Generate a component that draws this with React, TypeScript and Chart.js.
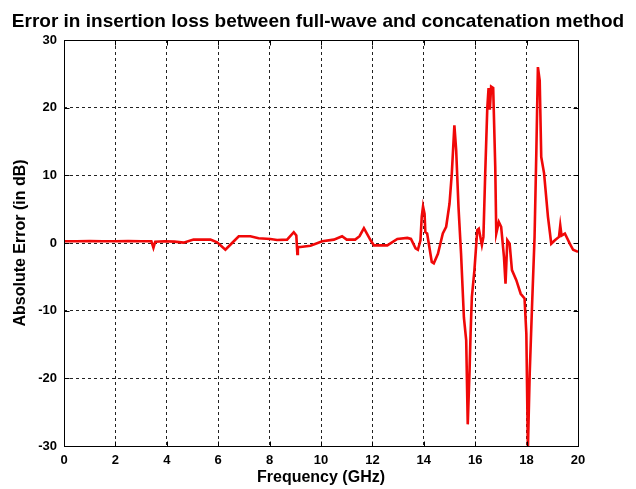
import { useEffect, useRef } from 'react';
import { Chart, registerables } from 'chart.js';

Chart.register(...registerables);

const TITLE = 'Error in insertion loss between full-wave and concatenation method';
const X_TITLE = 'Frequency (GHz)';
const Y_TITLE = 'Absolute Error (in dB)';

const freqGHz = [
  0, 0.5, 1, 1.5, 2, 2.5, 3, 3.4, 3.48, 3.55, 3.9, 4.3, 4.65, 5.04, 5.7, 5.96,
  6.28, 6.54, 6.8, 7.25, 7.57, 8.03, 8.29, 8.68, 8.94, 9.04, 9.08, 9.1, 9.2, 9.59,
  10.05, 10.5, 10.82, 11.0, 11.33, 11.5, 11.67, 11.93, 12.06, 12.58, 12.97, 13.36,
  13.5, 13.68, 13.77, 13.87, 13.92, 13.97, 14.03, 14.06, 14.13, 14.31, 14.39, 14.55,
  14.74, 14.87, 15.0, 15.09, 15.19, 15.26, 15.35, 15.45, 15.56, 15.65, 15.71, 15.78,
  15.82, 15.87, 15.97, 16.08, 16.14, 16.26, 16.32, 16.39, 16.47, 16.52, 16.57, 16.62,
  16.7, 16.78, 16.82, 16.92, 17.01, 17.12, 17.18, 17.25, 17.34, 17.43, 17.6, 17.77,
  17.92, 17.99, 18.05, 18.12, 18.21, 18.31, 18.38, 18.44, 18.51, 18.57, 18.68, 18.83,
  18.96, 19.1, 19.26, 19.31, 19.36, 19.49, 19.68, 19.81, 20.0,
];

const errorDb = [
  0.25, 0.25, 0.3, 0.25, 0.25, 0.3, 0.25, 0.25, -0.7, 0.2, 0.25, 0.2, 0.05, 0.5, 0.5, 0.1,
  -1.0, 0.0, 1.0, 1.0, 0.7, 0.6, 0.45, 0.5, 1.6, 1.1, -1.6, -0.6, -0.6, -0.4,
  0.25, 0.5, 1.0, 0.5, 0.5, 1.0, 2.2, 0.4, -0.35, -0.35, 0.6, 0.75,
  0.6, -0.8, -1.0, 0.4, 3.9, 5.4, 4.3, 1.6, 1.4, -2.8, -3.0, -1.6,
  1.4, 2.4, 5.8, 10.3, 17.4, 13.7, 5.3, -1.6, -11, -14.4, -26.8, -18.9,
  -13.4, -8, -4, 1.9, 2.1, -0.3, 0.9, 10.3, 19.9, 22.9, 19.7, 23.1,
  22.9, 11.3, 1.4, 3.1, 2.4, -2.1, -6, 0.4, -0.1, -4, -5.5, -7.5,
  -8.2, -13.4, -30.5, -19.4, -9.5, 0.9, 13.7, 26, 24, 12.7, 10.3, 3.9,
  -0.1, 0.4, 0.9, 2.6, 1.1, 1.4, -0.1, -1.0, -1.3,
];

const xTickValues = [0, 2, 4, 6, 8, 10, 12, 14, 16, 18, 20];
const yTickValues = [-30, -20, -10, 0, 10, 20, 30];

const FONT = "'Liberation Sans', Arial, sans-serif";

const framePlugin = {
  id: 'matlabFrame',
  afterDatasetsDraw(chart: any) {
    const { ctx, chartArea: a, scales } = chart;
    ctx.save();
    ctx.strokeStyle = '#000';
    ctx.lineWidth = 1;
    const L = Math.round(a.left) + 0.5;
    const R = Math.round(a.right) + 0.5;
    const T = Math.round(a.top) + 0.5;
    const B = Math.round(a.bottom) + 0.5;
    ctx.strokeRect(L, T, R - L, B - T);
    const tl = 5;
    ctx.beginPath();
    xTickValues.forEach((v) => {
      const px = Math.round(scales.x.getPixelForValue(v)) + 0.5;
      ctx.moveTo(px, B);
      ctx.lineTo(px, B - tl);
      ctx.moveTo(px, T);
      ctx.lineTo(px, T + tl);
    });
    yTickValues.forEach((v) => {
      const py = Math.round(scales.y.getPixelForValue(v)) + 0.5;
      ctx.moveTo(L, py);
      ctx.lineTo(L + tl, py);
      ctx.moveTo(R, py);
      ctx.lineTo(R - tl, py);
    });
    ctx.stroke();
    ctx.restore();
  },
};

const figureTitlePlugin = {
  id: 'figureTitle',
  afterDraw(chart: any) {
    const { ctx } = chart;
    ctx.save();
    ctx.fillStyle = '#000';
    ctx.font = `bold 19px ${FONT}`;
    ctx.textAlign = 'center';
    ctx.textBaseline = 'alphabetic';
    ctx.fillText(TITLE, chart.width / 2, 27);
    ctx.restore();
  },
};

export default function App() {
  const ref = useRef<HTMLCanvasElement | null>(null);

  useEffect(() => {
    if (!ref.current) return;
    const chart = new Chart(ref.current, {
      type: 'line',
      data: {
        datasets: [
          {
            data: freqGHz.map((f, i) => ({ x: f, y: errorDb[i] })),
            borderColor: 'rgb(240,8,8)',
            borderWidth: 2.6,
            pointRadius: 0,
            tension: 0,
            fill: false,
          },
        ],
      },
      options: {
        animation: false,
        responsive: true,
        maintainAspectRatio: false,
        layout: { padding: { left: 0, right: 58, top: 40, bottom: 0 } },
        plugins: {
          legend: { display: false },
          tooltip: { enabled: false },
          title: { display: false },
        },
        scales: {
          x: {
            type: 'linear',
            min: 0,
            max: 20,
            afterFit: (s: any) => {
              s.height = 43;
            },
            afterBuildTicks: (s: any) => {
              s.ticks = xTickValues.map((v) => ({ value: v }));
            },
            ticks: {
              color: '#000',
              font: { family: FONT, size: 13, weight: 'bold' },
              padding: 7,
              maxRotation: 0,
              autoSkip: false,
            },
            grid: { color: '#222', lineWidth: 1, drawTicks: false },
            border: { display: false, dash: [3, 3] },
            title: {
              display: true,
              text: X_TITLE,
              color: '#000',
              font: { family: FONT, size: 16, weight: 'bold' },
              padding: { top: 0, bottom: 1.5 },
            },
          },
          y: {
            type: 'linear',
            min: -30,
            max: 30,
            afterFit: (s: any) => {
              s.width = 64;
            },
            afterBuildTicks: (s: any) => {
              s.ticks = yTickValues.map((v) => ({ value: v }));
            },
            ticks: {
              color: '#000',
              font: { family: FONT, size: 13, weight: 'bold' },
              padding: 7,
              autoSkip: false,
            },
            grid: { color: '#222', lineWidth: 1, drawTicks: false },
            border: { display: false, dash: [3, 3] },
            title: {
              display: true,
              text: Y_TITLE,
              color: '#000',
              font: { family: FONT, size: 16, weight: 'bold' },
              padding: { top: 11, bottom: 0 },
            },
          },
        },
      },
      plugins: [framePlugin, figureTitlePlugin],
    });
    return () => chart.destroy();
  }, []);

  return (
    <div
      style={{
        position: 'absolute',
        left: 0,
        top: 0,
        width: 636,
        height: 489,
        background: '#fff',
      }}
    >
      <canvas ref={ref} />
    </div>
  );
}
